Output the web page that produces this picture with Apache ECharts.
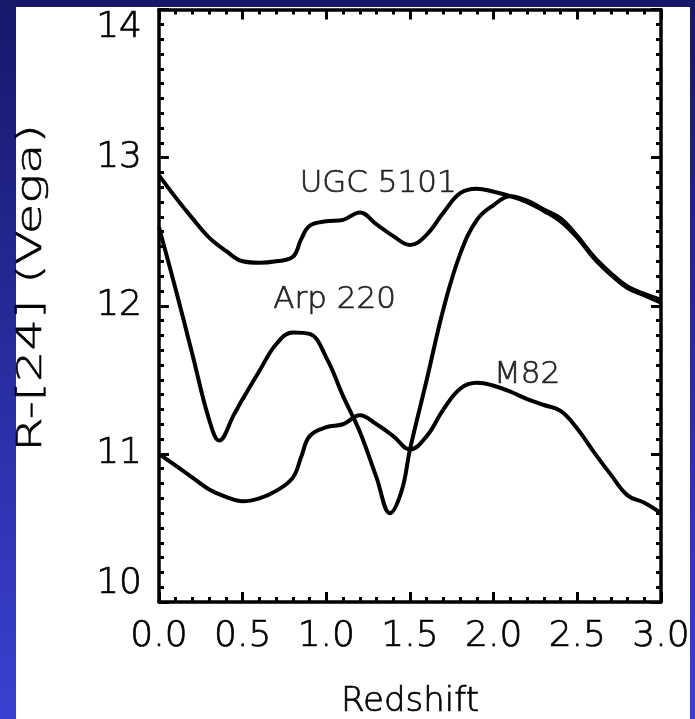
<!DOCTYPE html>
<html>
<head>
<meta charset="utf-8">
<script src="https://cdn.jsdelivr.net/npm/echarts@6/dist/echarts.min.js"></script>
<style>
  html, body { margin: 0; padding: 0; }
  #chart { width: 695px; height: 719px; }
</style>
</head>
<body>
<div id="chart"></div>
<script>
// Redshift grid for UGC 5101 and M82
const redshift = [0.0, 0.1, 0.2, 0.3, 0.4, 0.5, 0.6, 0.7, 0.8, 0.85, 0.9, 1.0, 1.1, 1.2, 1.3, 1.4, 1.5,
                  1.6, 1.7, 1.8, 1.9, 2.0, 2.1, 2.2, 2.3, 2.4, 2.5, 2.6, 2.7, 2.8, 2.9, 3.0];

// R-[24] colour tracks of the three template galaxies
const ugc5101 = [12.88, 12.73, 12.59, 12.46, 12.37, 12.30, 12.29, 12.30, 12.33, 12.45, 12.54, 12.57, 12.58, 12.63, 12.55, 12.47, 12.41,
                 12.48, 12.63, 12.76, 12.79, 12.77, 12.74, 12.70, 12.64, 12.57, 12.46, 12.32, 12.21, 12.12, 12.07, 12.02];
const arp220Z = [0.0, 0.1, 0.2, 0.3, 0.36, 0.45, 0.5, 0.6, 0.7, 0.8, 0.9, 1.0, 1.1, 1.2, 1.3, 1.38, 1.45, 1.5,
                 1.6, 1.7, 1.8, 1.9, 2.0, 2.1, 2.2, 2.3, 2.4, 2.5, 2.6, 2.7, 2.8, 2.9, 3.0];
const arp220 = [12.53, 12.11, 11.67, 11.23, 11.09, 11.27, 11.37, 11.56, 11.74, 11.82, 11.81, 11.65, 11.39, 11.15, 10.84, 10.60, 10.75, 11.03,
                11.50, 11.98, 12.35, 12.58, 12.68, 12.74, 12.71, 12.65, 12.59, 12.47, 12.33, 12.22, 12.13, 12.08, 12.04];
const m82 = [11.00, 10.92, 10.84, 10.76, 10.71, 10.68, 10.70, 10.75, 10.84, 10.98, 11.12, 11.18, 11.20, 11.26, 11.20, 11.12, 11.03,
             11.12, 11.30, 11.44, 11.48, 11.46, 11.42, 11.37, 11.33, 11.29, 11.17, 11.01, 10.86, 10.72, 10.67, 10.60];

// Curve annotations: [redshift, colour, text]
const curveNames = [
  [1.31, 12.82, 'UGC 5101'],
  [1.05, 12.04, 'Arp 220'],
  [2.20, 11.53, 'M82']
];

const xTicks = ['0.0', '0.5', '1.0', '1.5', '2.0', '2.5', '3.0'];
const yTitle = 'R-[24] (Vega)';
const xTitle = 'Redshift';

// thin stroke-font look: extra-light face with a hairline outline
const INK = '#000000';
const TEXT = { color: INK, fontFamily: 'DejaVu Sans', fontWeight: 200, textBorderColor: INK, textBorderWidth: 0.7 };

function pairs(xs, ys) { return xs.map((x, i) => [x, ys[i]]); }

function frameAxis(extra) {
  return Object.assign({
    type: 'value',
    axisLine: { show: true, onZero: false, lineStyle: { color: '#000', width: 3.5 } },
    axisTick: { show: true, inside: true, length: 10, lineStyle: { color: '#000', width: 3 } },
    splitLine: { show: false },
    minorSplitLine: { show: false }
  }, extra);
}

const chart = echarts.init(document.getElementById('chart'), null, { renderer: 'canvas' });

const lineStyle = { color: '#000', width: 4 };

chart.setOption({
  animation: false,
  backgroundColor: {
    type: 'linear', x: 0, y: 0, x2: 0, y2: 1,
    colorStops: [{ offset: 0, color: '#16186a' }, { offset: 1, color: '#3a40d2' }]
  },
  graphic: [
    {
      type: 'rect', z: -10, silent: true,
      shape: { x: 16, y: 7, width: 674, height: 712 },
      style: { fill: '#ffffff' }
    },
    {
      // vertical axis title, set in a wide stroke-font style
      type: 'text', silent: true, x: 32, y: 288, rotation: Math.PI / 2, scaleX: 1.46,
      style: {
        text: yTitle, fill: INK, stroke: INK, lineWidth: 0.6, align: 'center', verticalAlign: 'middle',
        fontFamily: TEXT.fontFamily, fontWeight: TEXT.fontWeight, fontSize: 34
      }
    }
  ],
  grid: { left: 159, right: 34, top: 9.5, bottom: 117, containLabel: false, outerBoundsMode: 'none' },
  xAxis: [
    frameAxis({
      min: 0, max: 3, interval: 0.5, position: 'bottom',
      minorTick: { show: true, splitNumber: 5, length: 5, lineStyle: { color: '#000', width: 3 } },
      axisLabel: Object.assign({
        show: true, margin: 17, fontSize: 36,
        formatter: v => xTicks[Math.round(v / 0.5)]
      }, TEXT),
      name: xTitle, nameLocation: 'middle', nameGap: 83,
      nameTextStyle: Object.assign({ fontSize: 34 }, TEXT)
    }),
    frameAxis({
      min: 0, max: 3, interval: 0.5, position: 'top',
      minorTick: { show: true, splitNumber: 5, length: 5, lineStyle: { color: '#000', width: 3 } },
      axisLabel: { show: false }
    })
  ],
  yAxis: [
    frameAxis({
      min: 10, max: 14, interval: 1, position: 'left',
      minorTick: { show: true, splitNumber: 10, length: 5, lineStyle: { color: '#000', width: 3 } },
      axisLabel: Object.assign({
        show: true, margin: 17, fontSize: 36,
        verticalAlignMinLabel: 'bottom', verticalAlignMaxLabel: 'top'
      }, TEXT)
    }),
    frameAxis({
      min: 10, max: 14, interval: 1, position: 'right',
      minorTick: { show: true, splitNumber: 10, length: 5, lineStyle: { color: '#000', width: 3 } },
      axisLabel: { show: false }
    })
  ],
  series: [
    { name: 'UGC 5101', type: 'line', data: pairs(redshift, ugc5101), smooth: 0.4,
      showSymbol: false, symbol: 'none', lineStyle: lineStyle, z: 3 },
    { name: 'Arp 220', type: 'line', data: pairs(arp220Z, arp220), smooth: 0.4,
      showSymbol: false, symbol: 'none', lineStyle: lineStyle, z: 3 },
    { name: 'M82', type: 'line', data: pairs(redshift, m82), smooth: 0.4,
      showSymbol: false, symbol: 'none', lineStyle: lineStyle, z: 3 },
    { name: 'labels', type: 'scatter', data: curveNames, symbolSize: 0, z: 4, silent: true,
      label: Object.assign({
        show: true, position: 'inside', formatter: p => p.data[2], fontSize: 31
      }, TEXT) }
  ]
});
</script>
</body>
</html>
